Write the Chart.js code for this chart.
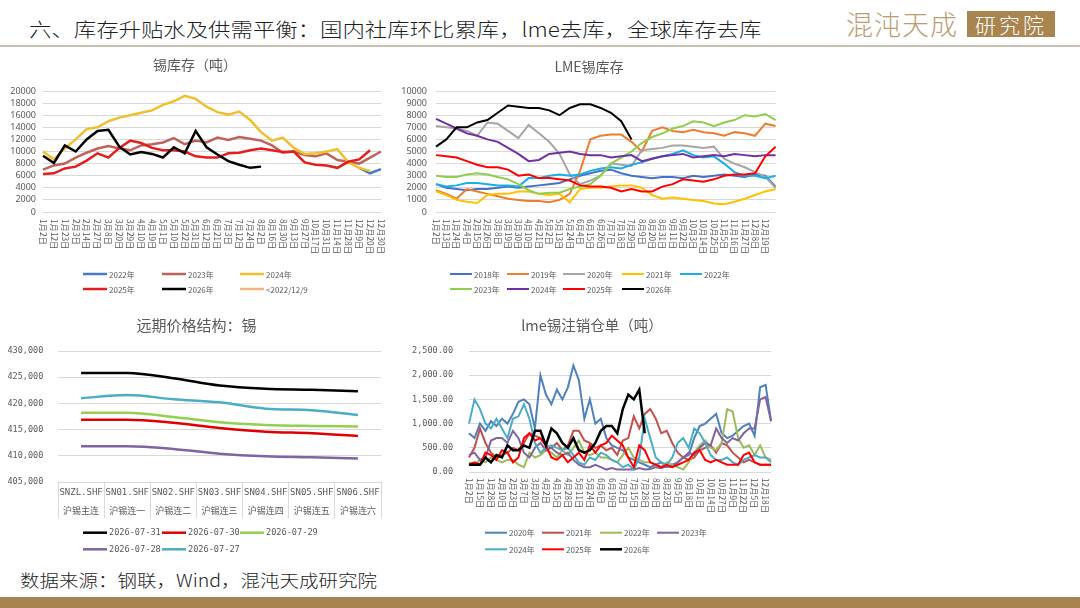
<!DOCTYPE html>
<html><head><meta charset="utf-8">
<script src="https://cdn.jsdelivr.net/npm/chart.js@4.4.1/dist/chart.umd.min.js"></script>
<style>
html,body{margin:0;padding:0;background:#fff;}
body{width:1080px;height:608px;position:relative;overflow:hidden;font-family:'Noto Sans CJK SC','Noto Sans',sans-serif;}
canvas{position:absolute;}
#hdr{position:absolute;left:29px;top:14px;font-size:22.4px;line-height:28px;color:#1e1e1e;white-space:nowrap;font-weight:300;transform:scaleY(0.88);transform-origin:0 50%;}
#hline{position:absolute;left:0;top:45px;width:1080px;height:2px;background:#c9c1b4;}
#logo1{position:absolute;left:846px;top:6px;font-size:27px;line-height:36px;color:#bb9d72;letter-spacing:1px;white-space:nowrap;font-weight:300;}
#logo2{position:absolute;left:967px;top:11px;width:88px;height:26px;background:#a9844f;color:#fff;font-size:21px;line-height:26px;text-align:center;letter-spacing:3px;font-weight:300;}
#src{position:absolute;left:20px;top:567px;font-size:19.5px;line-height:26px;color:#1e1e1e;white-space:nowrap;font-weight:300;transform:scaleY(0.9);transform-origin:0 50%;}
#fbar{position:absolute;left:0;top:597px;width:1080px;height:11px;background:#a9834f;}
</style></head>
<body>
<div id="hdr">六、库存升贴水及供需平衡：国内社库环比累库，lme去库，全球库存去库</div>
<div id="logo1">混沌天成</div><div id="logo2">研究院</div>
<div id="hline"></div>
<canvas id="c1" width="400" height="260" style="left:0;top:50px"></canvas>
<canvas id="c2" width="400" height="260" style="left:395px;top:50px"></canvas>
<canvas id="c3" width="400" height="250" style="left:0;top:310px"></canvas>
<canvas id="c4" width="400" height="250" style="left:395px;top:310px"></canvas>
<div id="src">数据来源：钢联，Wind，混沌天成研究院</div>
<div id="fbar"></div>
<script>
// ---------------- Chart 1: 锡库存（吨）
const labels1 = ['1月2日','1月12日','1月23日','2月3日','2月14日','2月27日','3月8日','3月20日','3月29日','4月10日','4月19日','5月1日','5月10日','5月22日','5月31日','6月12日','6月21日','7月3日','7月12日','7月24日','8月2日','8月16日','8月30日','9月13日','9月27日','10月17日','10月31日','11月14日','11月28日','12月9日','12月20日','12月30日'];
const inv2022 = [null,null,null,null,null,null,null,null,null,null,null,null,null,null,null,null,null,null,null,null,null,null,null,null,null,null,null,null,null,7300,6400,7100];
const inv2023 = [7000,7700,8000,9000,9800,10500,10900,10500,10200,11000,11200,11500,12200,11200,11800,11500,12300,11900,12400,12100,11800,11000,9800,10000,9400,9200,9700,8600,8300,8000,9000,10000];
const inv2024 = [10000,8700,10500,12000,13700,14000,15000,15600,16000,16400,16800,17700,18300,19200,18700,17400,16500,16100,16600,15200,13200,11800,12300,10600,9600,9700,10000,10400,8200,7300,6800,null];
const inv2025 = [6300,6400,7200,7500,8500,9700,9000,10600,11800,11400,10600,10200,10200,10000,9200,9000,9000,9700,9800,10200,10500,10200,9900,10000,8200,7800,7700,7300,8300,8700,10200,null];
const inv2026 = [9300,8100,11000,10000,12000,13400,13600,10800,9500,9900,9600,9000,10700,9700,13400,10700,9500,8400,7800,7300,7500,null,null,null,null,null,null,null,null,null,null,null];
const invOld  = [null,null,null,null,null,null,null,null,null,null,null,null,null,null,null,null,null,null,null,null,null,null,null,null,null,null,null,null,null,null,null,null];
const names1 = ['2022年','2023年','2024年','2025年','2026年','<2022/12/9'];
const colors1 = ['#4a7cc4','#c0625a','#efc02e','#e41e1e','#000000','#f4b183'];

// ---------------- Chart 2: LME锡库存
const labels2 = ['1月2日','1月13日','1月24日','2月4日','2月15日','2月26日','3月8日','3月19日','3月30日','4月10日','4月21日','5月2日','5月13日','5月24日','6月4日','6月15日','6月26日','7月7日','7月18日','7月29日','8月9日','8月20日','8月31日','9月11日','9月22日','10月3日','10月14日','10月25日','11月5日','11月16日','11月27日','12月8日','12月19日',''];
const lme2018 = [2300,2000,1900,1800,1900,1900,2000,2100,2000,2100,2200,2300,2400,2700,3000,3200,3400,3500,3200,3000,2900,2800,2900,2900,2800,3000,2900,3000,3100,3000,2900,3100,3000,2100];
const lme2019 = [1800,1500,1100,1900,1700,1500,1300,1100,1000,900,900,800,1000,1500,3400,6000,6300,6400,6400,5800,5000,6700,7000,6700,6600,6800,6600,6500,6300,6600,6500,6300,7300,7100];
const lme2020 = [7100,7000,6900,6700,6300,7400,7300,6700,6100,7200,6500,5800,4800,3100,2300,2600,3000,4000,3900,3800,5100,5200,5300,5500,5500,5400,5300,5400,4400,4000,3700,3300,2900,2000];
const lme2021 = [1700,1400,1000,850,750,1400,1500,1500,1700,1700,1500,1400,1500,800,1900,2000,2000,2100,2200,2200,2000,1400,1100,1200,1100,1000,900,700,650,850,1100,1400,1700,1900];
const lme2022 = [2300,2100,2200,2400,2400,2300,2200,2200,2100,2800,2800,3000,3100,3000,3100,3400,3600,3700,3600,3900,4100,4400,4600,4800,5100,4700,4500,4600,4000,3300,3000,3000,2800,3000];
const lme2023 = [3000,2900,2900,3100,3200,3100,2900,2700,2300,1800,1500,1600,1600,1900,2100,2300,3000,4000,4500,5000,5700,6200,6500,6900,7100,7500,7400,7100,7400,7600,8000,7900,8100,7600];
const lme2024 = [7700,7300,6900,6500,6300,6000,5800,5300,4800,4200,4300,4800,4900,5000,4800,4700,4700,4500,4600,4700,4200,4400,4600,4700,4800,4500,4600,4700,4600,4800,4700,4600,4700,4700];
const lme2025 = [4700,4600,4500,4200,3900,3700,3700,3500,3000,3100,2800,2800,2700,2600,2200,2100,2100,2000,1700,1900,1700,1700,2100,2300,2700,2600,2500,2700,3000,3100,3100,3200,4600,5400];
const lme2026 = [5400,6000,7000,7000,7400,7600,8200,8800,8700,8600,8600,8400,8000,8600,8900,8900,8600,8200,7500,6000,null,null,null,null,null,null,null,null,null,null,null,null,null,null];
const names2 = ['2018年','2019年','2020年','2021年','2022年','2023年','2024年','2025年','2026年'];
const colors2 = ['#4472c4','#ed7d31','#a5a5a5','#ffc000','#18aee8','#8fce4a','#7030a0','#ff0000','#000000'];

// ---------------- Chart 3: 远期价格结构：锡
const contracts3 = ['SNZL.SHF','SN01.SHF','SN02.SHF','SN03.SHF','SN04.SHF','SN05.SHF','SN06.SHF'];
const contractNames3 = ['沪锡主连','沪锡连一','沪锡连二','沪锡连三','沪锡连四','沪锡连五','沪锡连六'];
const px0731 = [425800,425800,424800,423400,422800,422600,422300];
const px0730 = [416900,416900,416300,415300,414600,414300,413800];
const px0729 = [418200,418200,417400,416400,415900,415700,415600];
const px0728 = [411800,411800,411300,410400,409900,409700,409500];
const px0727 = [421000,421600,420800,420200,419000,418700,417800];
const names3 = ['2026-07-31','2026-07-30','2026-07-29','2026-07-28','2026-07-27'];
const colors3 = ['#000000','#e00000','#92d050','#8064a2','#4bacc6'];

// ---------------- Chart 4: lme锡注销仓单（吨）
const tickLabels4 = ['1月2日','1月15日','1月28日','2月10日','2月23日','3月7日','3月20日','4月2日','4月15日','4月28日','5月11日','5月24日','6月6日','6月19日','7月2日','7月15日','7月28日','8月10日','8月23日','9月5日','9月18日','10月1日','10月14日','10月27日','11月9日','11月22日','12月5日','12月18日'];
const cw2020 = [800,700,1000,850,1050,950,1100,1000,1200,1450,1500,1400,900,2000,1600,1400,1700,1500,1750,2200,1900,1100,1500,1000,1100,700,550,500,450,300,250,200,150,100,150,200,100,150,200,300,350,700,950,1000,1100,1200,800,700,750,850,950,1000,750,1750,1800,1050];
const cw2021 = [300,500,900,600,400,300,350,400,500,450,600,800,750,700,550,500,600,450,550,850,850,650,600,500,550,450,500,350,650,700,1150,900,1200,1300,1100,800,850,600,400,300,250,300,450,500,550,400,600,550,400,300,200,250,200,150,150,150];
const cw2022 = [200,150,250,200,300,250,200,250,250,150,100,400,300,350,450,400,300,450,350,500,650,400,350,400,300,300,250,200,350,500,300,250,200,200,150,100,200,150,100,50,200,400,550,650,500,450,600,1300,1250,700,500,550,350,550,300,250];
const cw2023 = [350,400,250,300,650,700,700,600,850,700,400,300,500,600,450,500,400,350,400,250,150,100,100,150,100,50,80,50,50,50,50,80,50,60,100,80,120,100,200,300,400,350,500,600,550,900,700,600,700,650,800,900,900,1500,1550,1050];
const cw2024 = [1000,1500,1300,1000,900,1100,900,700,1100,1150,1400,1100,600,400,500,550,500,450,500,350,200,150,300,250,400,350,250,200,100,150,50,300,1100,700,300,200,150,300,600,700,500,900,800,600,350,250,250,300,200,150,250,300,350,300,300,200];
const cw2025 = [150,200,150,400,350,250,450,400,200,300,700,800,650,700,550,300,250,350,200,300,400,250,550,400,550,600,750,650,550,300,100,550,450,200,150,100,150,100,150,200,250,400,450,250,200,250,200,150,150,150,350,400,200,150,150,150];
const cw2026 = [150,150,150,300,200,350,300,550,450,450,550,500,850,850,550,900,800,600,500,700,450,400,450,600,850,950,950,800,1300,1600,1500,1700,800,null,null,null,null,null,null,null,null,null,null,null,null,null,null,null,null,null,null,null,null,null,null,null];
const names4 = ['2020年','2021年','2022年','2023年','2024年','2025年','2026年'];
const colors4 = ['#4f81bd','#c0504d','#9bbb59','#8064a2','#4bacc6','#ff0000','#000000'];

// labels for chart 4: each tick label followed by an unlabeled category
const labels4 = [];
tickLabels4.forEach(l => { labels4.push(l); labels4.push(''); });

// ---------------- decoration plugin: title, rotated tick labels, grid legend
const deco = {
  id: 'deco',
  afterDraw(chart, args, o) {
    const ctx = chart.ctx;
    ctx.save();
    if (o.title) {
      ctx.font = o.title.font; ctx.fillStyle = o.title.color;
      ctx.textAlign = 'center'; ctx.textBaseline = 'middle';
      ctx.fillText(o.title.text, o.title.x, o.title.y);
    }
    if (o.xlabels) {
      const xs = chart.scales.x;
      ctx.font = o.xlabels.font; ctx.fillStyle = o.xlabels.color;
      ctx.textAlign = 'left'; ctx.textBaseline = 'middle';
      chart.data.labels.forEach((lab, i) => {
        if (!lab) return;
        const x = xs.getPixelForValue(i);
        ctx.save();
        ctx.translate(x, chart.chartArea.bottom + o.xlabels.gap);
        ctx.rotate(Math.PI / 2);
        ctx.fillText(lab, 0, 0);
        ctx.restore();
      });
    }
    if (o.legend) {
      const L = o.legend;
      ctx.font = L.font; ctx.textAlign = 'left'; ctx.textBaseline = 'middle';
      chart.data.datasets.forEach((ds, i) => {
        const c = i % L.cols.length, r = Math.floor(i / L.cols.length);
        const x = L.cols[c], y = L.rows[r];
        ctx.strokeStyle = ds.borderColor; ctx.lineWidth = ds.borderWidth;
        ctx.beginPath(); ctx.moveTo(x, y); ctx.lineTo(x + L.len, y); ctx.stroke();
        ctx.fillStyle = L.color;
        ctx.fillText(ds.label, x + L.len + 2, y + 0.5);
      });
    }
    ctx.restore();
  }
};

function mkSets(names, series, colors, width, extra) {
  const n = names.length;
  return names.map((nm, i) => Object.assign({
    label: nm, data: series[i], borderColor: colors[i], backgroundColor: colors[i],
    borderWidth: width, pointRadius: 0, tension: 0, spanGaps: false, order: n - i
  }, extra || {}));
}

const gridC = '#d9d9d9', txtC = '#595959';
function baseOpts(pad, yw, xh, ymin, ymax, step, yfont, ypad, ycb, decoOpts) {
  return {
    responsive: false, animation: false, events: [],
    layout: { padding: pad },
    plugins: { legend: { display: false }, title: { display: false }, tooltip: { enabled: false }, deco: decoOpts },
    scales: {
      x: { type: 'category', offset: false, grid: { display: false }, border: { display: false },
           ticks: { display: false }, afterFit: s => { s.height = xh; } },
      y: { min: ymin, max: ymax, ticks: { stepSize: step, autoSkip: false, padding: ypad, color: txtC, font: yfont, callback: ycb },
           grid: { color: gridC, drawTicks: false }, border: { display: false }, afterFit: s => { s.width = yw; } }
    }
  };
}

// Chart 1
new Chart(document.getElementById('c1'), {
  type: 'line',
  data: { labels: labels1, datasets: mkSets(names1, [inv2022, inv2023, inv2024, inv2025, inv2026, invOld], colors1, 2.5) },
  options: baseOpts({ top: 41, right: 19, bottom: 0, left: 0 }, 43, 98, 0, 20000, 2000,
    { family: 'Noto Sans', size: 9 }, 7, v => String(v),
    { title: { text: '锡库存（吨）', x: 195, y: 15, font: "14px 'Noto Sans CJK SC'", color: txtC },
      xlabels: { gap: 7, font: "8.3px 'Noto Sans CJK SC'", color: txtC },
      legend: { cols: [83, 162, 240], rows: [224, 239], len: 24, font: "8px 'Noto Sans CJK SC'", color: txtC } }),
  plugins: [deco]
});

// Chart 2
new Chart(document.getElementById('c2'), {
  type: 'line',
  data: { labels: labels2, datasets: mkSets(names2, [lme2018, lme2019, lme2020, lme2021, lme2022, lme2023, lme2024, lme2025, lme2026], colors2, 2) },
  options: baseOpts({ top: 41, right: 19.4, bottom: 0, left: 0 }, 41, 98, 0, 10000, 1000,
    { family: 'Noto Sans', size: 9 }, 9, v => String(v),
    { title: { text: 'LME锡库存', x: 194, y: 16.5, font: "14px 'Noto Sans CJK SC'", color: txtC },
      xlabels: { gap: 7, font: "8.3px 'Noto Sans CJK SC'", color: txtC },
      legend: { cols: [55, 112, 168, 227, 285], rows: [224, 239], len: 22, font: "8px 'Noto Sans CJK SC'", color: txtC } }),
  plugins: [deco]
});

// Chart 3
const opts3 = baseOpts({ top: 41, right: 19, bottom: 0, left: 0 }, 58, 78, 405000, 430000, 5000,
  { family: "'DejaVu Sans Mono'", size: 8.5 }, 14.7, v => v.toLocaleString('en-US'),
  { title: { text: '远期价格结构：锡', x: 196.5, y: 15, font: "15px 'Noto Sans CJK SC'", color: txtC },
    legend: { cols: [83, 162, 240], rows: [222.7, 239.3], len: 24, font: "8.6px 'DejaVu Sans Mono'", color: txtC } });
opts3.scales.x = {
  type: 'category', offset: true,
  grid: { display: true, offset: true, drawOnChartArea: false, drawTicks: true, tickLength: 36, color: gridC },
  border: { display: true, color: gridC },
  ticks: { display: true, autoSkip: false, maxRotation: 0, minRotation: 0, padding: -34.8, color: txtC,
           font: { family: "'DejaVu Sans Mono','Noto Sans CJK SC'", size: 9, lineHeight: 2.1 } },
  afterFit: s => { s.height = 78; }
};
new Chart(document.getElementById('c3'), {
  type: 'line',
  data: { labels: contracts3.map((c, i) => [c, contractNames3[i]]),
          datasets: mkSets(names3, [px0731, px0730, px0729, px0728, px0727], colors3, 2.5, { cubicInterpolationMode: 'monotone' }) },
  options: opts3,
  plugins: [deco]
});

// Chart 4
const sets4 = mkSets(names4, [cw2020, cw2021, cw2022, cw2023, cw2024, cw2025, cw2026], colors4, 2);
sets4[6].borderWidth = 2.5;
new Chart(document.getElementById('c4'), {
  type: 'line',
  data: { labels: labels4, datasets: sets4 },
  options: baseOpts({ top: 41, right: 23.9, bottom: 0, left: 0 }, 74, 88, 0, 2500, 500,
    { family: "'DejaVu Sans Mono'", size: 8.5 }, 16, v => v.toLocaleString('en-US', { minimumFractionDigits: 2, maximumFractionDigits: 2 }),
    { title: { text: 'lme锡注销仓单（吨）', x: 197, y: 15, font: "14.5px 'Noto Sans CJK SC'", color: txtC },
      xlabels: { gap: 6, font: "8.3px 'Noto Sans CJK SC'", color: txtC },
      legend: { cols: [90, 147, 205, 262], rows: [222.7, 239.3], len: 22, font: "8px 'Noto Sans CJK SC'", color: txtC } }),
  plugins: [deco]
});
</script>
</body></html>
